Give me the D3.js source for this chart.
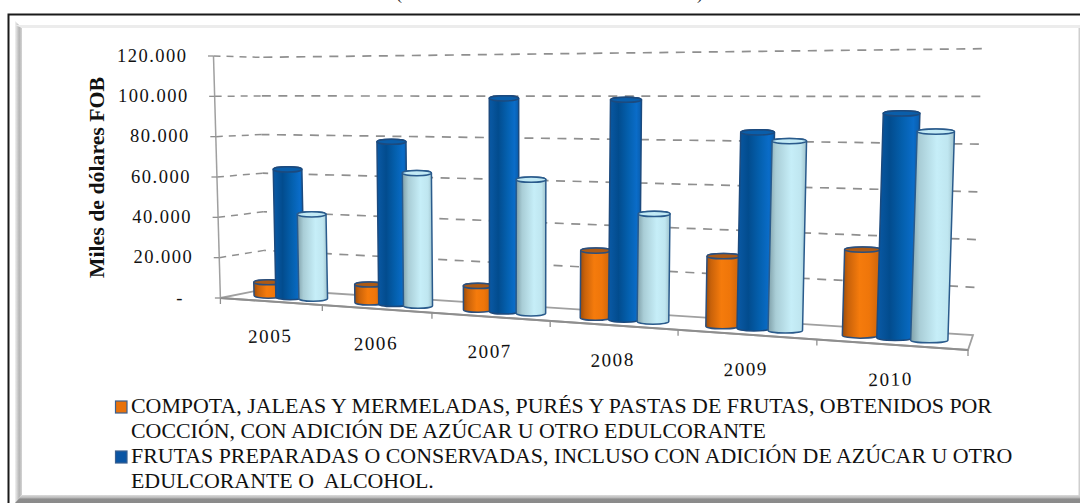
<!DOCTYPE html>
<html><head><meta charset="utf-8">
<script src="https://cdn.jsdelivr.net/npm/d3@7/dist/d3.min.js"></script>
<style>html,body{margin:0;padding:0;background:#fff;overflow:hidden}svg{display:block}</style>
</head><body>
<script>
const years = ["2005","2006","2007","2008","2009","2010"];
const compota = [6700, 8700, 11200, 30500, 30700, 36300];
const frutas = [63600, 78300, 99500, 99100, 85200, 93900];
const tercera = [41700, 63500, 61900, 48100, 81600, 86500];
const yTicks = [0, 20000, 40000, 60000, 80000, 100000, 120000];
const yTickLabels = ["-", "20.000", "40.000", "60.000", "80.000", "100.000", "120.000"];
const yTitle = "Miles de dólares FOB";
const legend1 = ["COMPOTA, JALEAS Y MERMELADAS, PURÉS Y PASTAS DE FRUTAS, OBTENIDOS POR", "COCCIÓN, CON ADICIÓN DE AZÚCAR U OTRO EDULCORANTE"];
const legend2 = ["FRUTAS PREPARADAS O CONSERVADAS, INCLUSO CON ADICIÓN DE AZÚCAR U OTRO", "EDULCORANTE O  ALCOHOL."];

const W = 1080, H = 503;
const svg = d3.select("body").append("svg").attr("width", W).attr("height", H);
const defs = svg.append("defs");
const serif = "'Liberation Serif', serif";

// frame
svg.append("rect").attr("x",0).attr("y",0).attr("width",W).attr("height",H).attr("fill","#fff");
const lg = defs.append("linearGradient").attr("id","bandL");
lg.append("stop").attr("offset",0).attr("stop-color","#f2f2f2");
lg.append("stop").attr("offset",0.6).attr("stop-color","#b4b4b4");
lg.append("stop").attr("offset",1).attr("stop-color","#d4d4d4");
const lb = defs.append("linearGradient").attr("id","bandB").attr("x1",0).attr("y1",0).attr("x2",0).attr("y2",1);
lb.append("stop").attr("offset",0).attr("stop-color","#dcdcdc");
lb.append("stop").attr("offset",0.35).attr("stop-color","#b8b8b8");
lb.append("stop").attr("offset",0.5).attr("stop-color","#8c8c8c");
lb.append("stop").attr("offset",1).attr("stop-color","#8a8a8a");
svg.append("path").attr("d","M15,21L22,28L22,495L15,503Z").attr("fill","url(#bandL)");
svg.append("path").attr("d","M15,25L1080,25L1080,28L22,28Z").attr("fill","#ececec");
svg.append("path").attr("d","M22,495L1080,495L1080,503L15,503Z").attr("fill","url(#bandB)");
svg.append("rect").attr("x",1078.5).attr("y",28).attr("width",1.5).attr("height",468).attr("fill","#cfcfcf");
svg.append("path").attr("d","M1080,14.5H8.5V503").attr("fill","none").attr("stroke","#1a1a1a").attr("stroke-width",2);

// clipped title fragments
svg.append("text").attr("x",396).attr("y",-1).attr("font-family",serif).attr("font-size",18).attr("fill","#222").text("(");
svg.append("text").attr("x",697).attr("y",-1).attr("font-family",serif).attr("font-size",18).attr("fill","#222").text(")");

// scales
const xBand = d3.scaleBand().domain(years).range([0,1]);
const vScale = d3.scaleLinear().domain([0,120000]).range([0,1]);
const persp = u => u / (u + 1.267 * (1 - u));
const rxScale = d3.scaleLinear().domain([0,0.5,1]).range([14.2,14.8,19]);
const lerp = (a,b,t) => a + (b-a)*t;
// projection corners of the 3D box (f=front, b=back; floor and ceiling)
const floorF = [[220.4,298],[968,350]], floorB = [[265,289],[973,335]];
const ceilF = [[213.5,56],[979,52]], ceilB = [[260,57.3],[981.8,48.7]];
function project(u, d, v) {
  const f = persp(u), t = vScale(v);
  const p = i => {
    const bot = lerp(lerp(floorF[0][i],floorF[1][i],f), lerp(floorB[0][i],floorB[1][i],f), d);
    const top = lerp(lerp(ceilF[0][i],ceilF[1][i],f), lerp(ceilB[0][i],ceilB[1][i],f), d);
    return lerp(bot, top, t);
  };
  return [p(0), p(1)];
}
const line = d3.line();
const plot = svg.append("g");

// walls
const gridColor = "#8f8f8f";
yTicks.forEach(v => {
  if (v > 0) {
    plot.append("path").attr("d", line([project(1,1,v), project(0,1,v)]))
      .attr("fill","none").attr("stroke",gridColor).attr("stroke-width",1.7).attr("stroke-dasharray","9 7.5");
    plot.append("path").attr("d", line([project(0,0,v), project(0,1,v)]))
      .attr("fill","none").attr("stroke",gridColor).attr("stroke-width",1.5).attr("stroke-dasharray","7 6");
  }
});
// floor
const floorPts = [project(0,0,0), project(1,0,0), project(1,1,0), project(0,1,0), project(0,0,0)];
plot.append("path").attr("d", line(floorPts)).attr("fill","none").attr("stroke","#a0a0a0").attr("stroke-width",1.8);
plot.append("path").attr("d", line([project(0,0,0), project(1,0,0)])).attr("fill","none").attr("stroke","#8e8e8e").attr("stroke-width",2);
// value axis
plot.append("path").attr("d", line([project(0,0,0), project(0,0,120000)])).attr("fill","none").attr("stroke","#a0a0a0").attr("stroke-width",1.5);
yTicks.forEach((v,i) => {
  const p = project(0,0,v);
  plot.append("path").attr("d", line([[p[0]-5.5,p[1]],p])).attr("stroke","#909090").attr("stroke-width",1.3);
  plot.append("text").attr("x",p[0]-26 - (v===0?12:0)).attr("y",p[1]+5.5).attr("text-anchor","end")
    .attr("font-family",serif).attr("font-size",18.5).attr("letter-spacing",v===0?0:1.5).attr("fill","#111").text(yTickLabels[i]);
});
// category ticks and labels
[0,1,2,3,4,5,6].forEach(k => {
  const p = project(k/6,0,0);
  plot.append("path").attr("d", line([p,[p[0],p[1]+6]])).attr("stroke","#909090").attr("stroke-width",1.3);
});
years.forEach(y => {
  const p = project(xBand(y)+xBand.bandwidth()/2,0,0);
  plot.append("text").attr("transform",`translate(${p[0]},${p[1]+41}) rotate(-1.5)`).attr("text-anchor","middle")
    .attr("font-family",serif).attr("font-size",19).attr("letter-spacing",1.6).attr("fill","#111").text(y);
});
svg.append("text").attr("transform","translate(104,177.5) rotate(-90)").attr("text-anchor","middle")
  .attr("font-family",serif).attr("font-weight","bold").attr("font-size",21.8).attr("fill","#111").text(yTitle);

// gradients
function grad(id, stops){
  const g = defs.append("linearGradient").attr("id",id);
  stops.forEach(s => g.append("stop").attr("offset",s[0]).attr("stop-color",s[1]));
}
grad("gOrange",[[0,"#9a4c0c"],[0.15,"#c9620a"],[0.45,"#f57b0c"],[0.7,"#ef760a"],[1,"#c8630c"]]);
grad("gBlue",[[0,"#0a5aa6"],[0.3,"#024c8e"],[0.6,"#0460ae"],[0.85,"#0a6cc8"],[1,"#0a5cab"]]);
grad("gLight",[[0,"#7f9fa8"],[0.2,"#a9cdd6"],[0.6,"#c6eef8"],[0.85,"#bfe6f0"],[1,"#9fc2cc"]]);

const series = [
  {vals:compota, off:u=>-0.22-0.02*u, fill:"url(#gOrange)", cap:"#ad5a14", stroke:"#2c4f7c"},
  {vals:frutas, off:u=>0, fill:"url(#gBlue)", cap:"#0a5eaa", stroke:"#1c4a7e"},
  {vals:tercera, off:u=>0.23, fill:"url(#gLight)", cap:"#c2eaf5", stroke:"#2a5b8c"}
];
const ry = 2.6;
years.forEach((y,i) => {
  const uc = xBand(y)+xBand.bandwidth()/2;
  series.forEach(s => {
    const u = uc + s.off(uc)*xBand.bandwidth();
    const b = project(u,0.47,0), t = project(u,0.47,s.vals[i]);
    const rx = rxScale(u);
    plot.append("path")
      .attr("d",`M${t[0]-rx},${t[1]}L${b[0]-rx},${b[1]}A${rx},${ry} 0 0 0 ${b[0]+rx},${b[1]}L${t[0]+rx},${t[1]}A${rx},${ry} 0 0 0 ${t[0]-rx},${t[1]}Z`)
      .attr("fill",s.fill).attr("stroke",s.stroke).attr("stroke-width",1.5);
    plot.append("ellipse").attr("cx",t[0]).attr("cy",t[1]).attr("rx",rx).attr("ry",ry)
      .attr("fill",s.cap).attr("stroke",s.stroke).attr("stroke-width",1.5);
  });
});

// legend
function legendItem(y, fill, lines){
  svg.append("rect").attr("x",115.5).attr("y",y).attr("width",11.5).attr("height",12).attr("fill",fill).attr("stroke","#3a5f8f").attr("stroke-width",1.2);
  lines.forEach((t,k) => svg.append("text").attr("x",131).attr("y",y+12+k*24.7).style("white-space","pre")
    .attr("font-family",serif).attr("font-size",21.9).attr("fill","#111").text(t));
}
legendItem(401,"#e8720c",legend1);
legendItem(451,"#0a55a4",legend2);
</script>
</body></html>
